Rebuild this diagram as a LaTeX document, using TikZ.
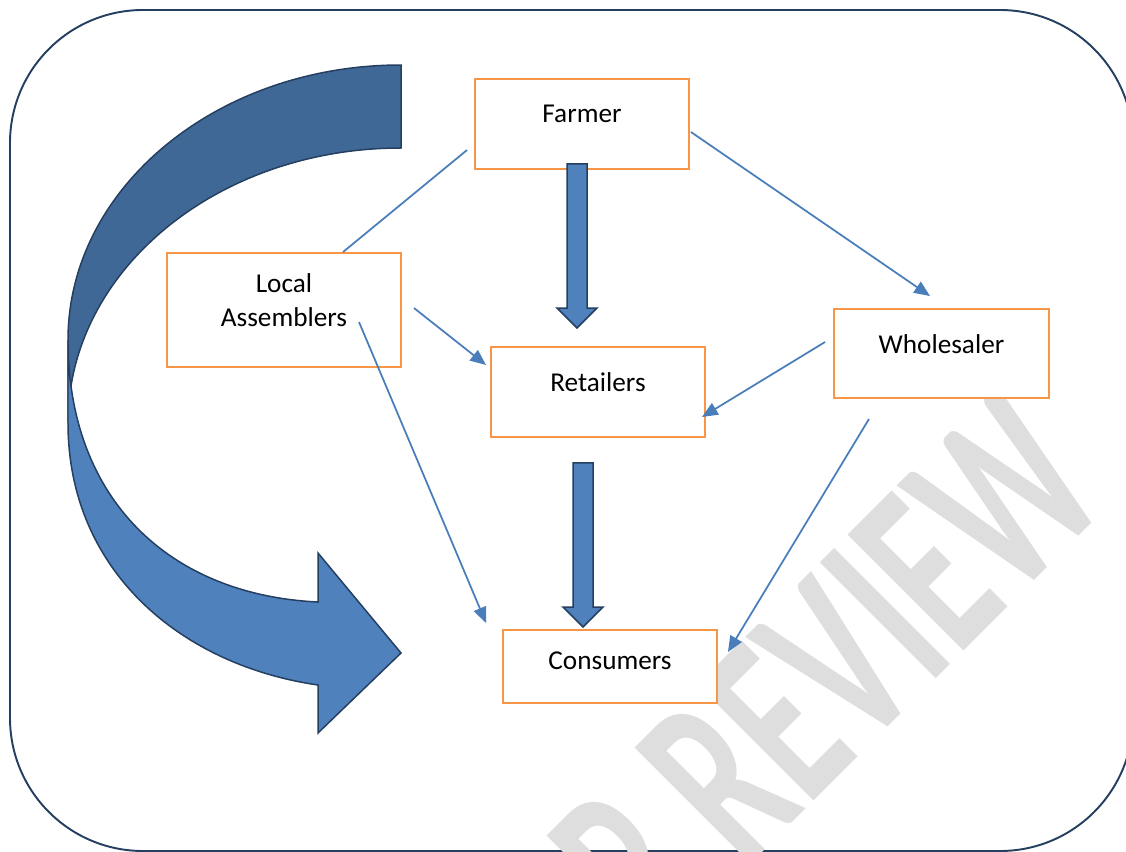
\documentclass[tikz,border=0pt]{standalone}
\usepackage{fontspec}
\setmainfont{Carlito}
\usetikzlibrary{arrows.meta,calc}

\definecolor{navy}{HTML}{243F60}
\definecolor{boxorange}{HTML}{F79646}
\definecolor{linkblue}{HTML}{4A7EBB}
\definecolor{darkband}{HTML}{406897}
\definecolor{lightband}{HTML}{4F81BD}
\definecolor{markgray}{HTML}{DEDEDE}

% block arrow pointing down, from #1 (top of shaft) to #2 (tip)
\newcommand{\blockdown}[2]{%
  \filldraw[fill=lightband, draw=navy, line width=0.85pt] let \p1=(#1), \p2=(#2) in
    (\x1-0.2cm,\y1) -- (\x1+0.2cm,\y1) -- (\x1+0.2cm,\y2+0.4cm) -- (\x1+0.4cm,\y2+0.4cm)
    -- (\x1,\y2) -- (\x1-0.4cm,\y2+0.4cm) -- (\x1-0.2cm,\y2+0.4cm) -- cycle;}

\begin{document}
\begin{tikzpicture}[x=0.02cm, y=-0.02cm,
    box/.style={draw=boxorange, line width=1.1pt, fill=white, inner sep=0pt,
      align=center, text depth=11.3pt, font=\fontsize{15.5}{19.8}\selectfont},
    link/.style={draw=linkblue, line width=1pt},
    linkarrow/.style={link, -{Triangle[length=9pt,width=7.5pt]}}]
    \useasboundingbox (0,0) rectangle (1126,852);
    \clip (0,0) rectangle (1126,852);

    % Cornice
    \draw[navy, line width=1.1pt, rounded corners=2.66cm] (10,10) rectangle (1133,851);

    % Filigrana
    \node[text=markgray, font=\fontsize{90}{90}\selectfont\bfseries, inner sep=0pt,
      anchor=base east, rotate=45] (mark) at (1114,501) {\scalebox{1}[1.6]{R REVIEW}};

    % Freccia curva
    \filldraw[fill=darkband, draw=navy, line width=0.85pt]
      (401,65) .. controls (217,65) and (68,188) .. (68,340) -- (68,423)
      .. controls (68,271) and (217,148) .. (401,148) -- cycle;
    \filldraw[fill=lightband, draw=navy, line width=0.85pt]
      (68,340) .. controls (68,500) and (170,595) .. (318,602) -- (318,553)
      -- (401,653) -- (318,733) -- (318,685)
      .. controls (180,665) and (68,570) .. (68,423) -- cycle;

    % Attori
    \node[box, minimum width=4.28cm, minimum height=1.8cm] (farmer) at (582,124) {Farmer};
    \node[box, minimum width=4.68cm, minimum height=2.28cm] (local) at (284,310) {Local\\Assemblers};
    \node[box, minimum width=4.28cm, minimum height=1.8cm] (retail) at (598,392) {Retailers};
    \node[box, minimum width=4.3cm, minimum height=1.78cm] (whole) at (941.5,353.5) {Wholesaler};
    \node[box, minimum width=4.28cm, minimum height=1.46cm, text depth=7pt] (consumer) at (610,666.5) {Consumers};

    % Connessioni
    \draw[link] ($(farmer.west)+(-7,26)$) -- ($(local.north)+(59,0)$);
    \draw[linkarrow] ($(farmer.east)+(1,8)$) -- ($(whole.north)+(-11.5,-12)$);
    \draw[linkarrow] ($(local.east)+(12,-2)$) -- ($(retail.west)+(-4,-27)$);
    \draw[linkarrow] ($(local.center)+(75,12)$) -- ($(consumer.north west)+(-16,-6)$);
    \draw[linkarrow] ($(whole.west)+(-8,-11.5)$) -- ($(retail.east)+(-4,25)$);
    \draw[linkarrow] ($(whole.south)+(-72.5,20)$) -- ($(consumer.east)+(10,-14.5)$);

    % Flusso principale
    \blockdown{$(farmer.south)+(-5,-6)$}{$(retail.north)+(-21,-18)$}
    \blockdown{$(retail.south)+(-15,25)$}{$(consumer.north)+(-27,-2)$}
\end{tikzpicture}
\end{document}
